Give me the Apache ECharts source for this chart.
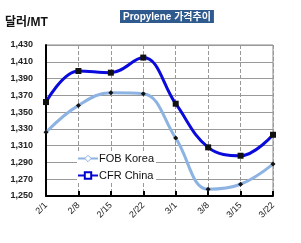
<!DOCTYPE html>
<html><head><meta charset="utf-8">
<script src="https://cdn.jsdelivr.net/npm/echarts@6/dist/echarts.min.js"></script>
<style>html,body{margin:0;padding:0;background:#fff}#c{width:301px;height:243px}</style>
</head><body><div id="c"></div>
<script>
var categories = ['2/1','2/8','2/15','2/22','3/1','3/8','3/15','3/22'];
var fobKorea = [1326, 1358, 1373, 1372, 1319, 1258, 1264, 1288];
var cfrChina = [1362, 1399, 1397, 1415, 1360, 1308, 1298, 1323];
var yTicks = [1250, 1270, 1290, 1310, 1330, 1350, 1370, 1390, 1410, 1430];

var chart = echarts.init(document.getElementById('c'), null, {renderer:'canvas'});
chart.setOption({
  animation:false,
  backgroundColor:'#fff',
  title:{
    text:'Propylene 가격추이',
    left:120, top:10,
    padding:[2,3,1,3],
    backgroundColor:'#2E5A8E',
    textStyle:{color:'#fff',fontSize:10,fontWeight:'bold',fontFamily:'Liberation Sans, Noto Sans CJK KR'}
  },
  graphic:[{type:'text',left:5,top:17,style:{text:'달러/MT',fontSize:12,fontWeight:'bold',fill:'#111',fontFamily:'Liberation Sans, Noto Sans CJK KR'}}],
  legend:{
    orient:'vertical',
    left:77, top:151,
    itemWidth:20, itemHeight:8,
    itemGap:6,
    backgroundColor:'#fff',
    padding:[2,2,2,0],
    textStyle:{fontSize:11,color:'#111',fontFamily:'Liberation Sans',padding:[0,0,0,-4]},
    data:[
      {name:'FOB Korea',itemStyle:{color:'#fff',borderColor:'#8DB3E2',borderWidth:1}},
      {name:'CFR China',itemStyle:{color:'#fff',borderColor:'#0000CC',borderWidth:2}}
    ]
  },
  grid:{left:46,right:28,top:45,bottom:47,show:true,borderColor:'#888',borderWidth:1},
  xAxis:{
    type:'category',data:categories,boundaryGap:false,
    axisLine:{lineStyle:{color:'#000',width:2}},
    axisTick:{show:true,inside:true,length:5,lineStyle:{color:'#000',width:2}},
    axisLabel:{rotate:45,fontSize:9,color:'#222',margin:8,fontFamily:'Liberation Sans'},
    splitLine:{show:true,lineStyle:{color:'#999',type:'dashed',width:1}}
  },
  yAxis:{
    type:'value',min:1250,max:1430,interval:20,
    axisLine:{show:true,lineStyle:{color:'#000',width:2}},
    axisTick:{show:false},
    axisLabel:{fontSize:9,fontWeight:'bold',color:'#222',margin:13,fontFamily:'Liberation Sans Narrow, Liberation Sans',
      formatter:function(v){return yTicks.indexOf(v)>=0? v.toLocaleString('en-US'):'';}},
    splitLine:{lineStyle:{color:'#999',width:1}}
  },
  series:[
    {name:'FOB Korea',type:'line',data:fobKorea,smooth:0.4,
      lineStyle:{color:'#8DB3E2',width:3},
      itemStyle:{color:'#111'},symbol:'diamond',symbolSize:5,z:2},
    {name:'CFR China',type:'line',data:cfrChina,smooth:0.4,
      lineStyle:{color:'#0A0ADC',width:3},
      itemStyle:{color:'#111'},symbol:'rect',symbolSize:6,z:3}
  ]
});
</script></body></html>
